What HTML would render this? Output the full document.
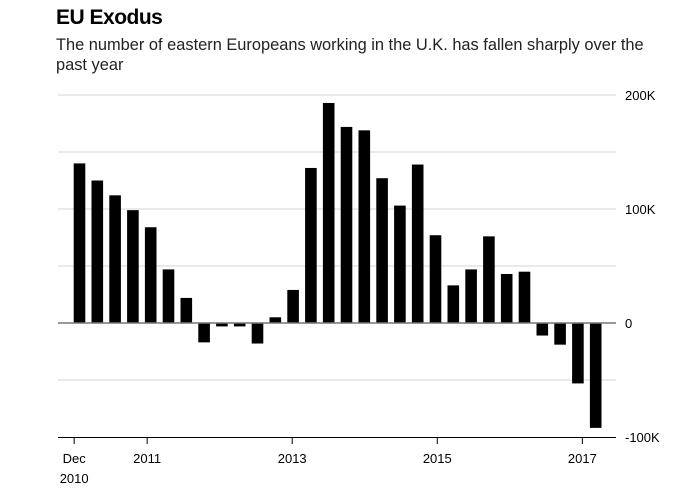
<!DOCTYPE html>
<html><head><meta charset="utf-8"><style>
body{margin:0;background:#fff;font-family:"Liberation Sans",Arial,sans-serif;}
#wrap{position:relative;width:697px;height:495px;overflow:hidden}
h1{position:absolute;left:56px;top:6px;margin:0;font-size:21px;font-weight:bold;letter-spacing:-0.5px;color:#000}
p{position:absolute;left:56px;top:35px;margin:0;font-size:16.4px;line-height:20px;color:#222;width:640px;white-space:nowrap}
</style></head><body>
<div id="wrap">
<h1>EU Exodus</h1>
<p>The number of eastern Europeans working in the U.K. has fallen sharply over the<br>past year</p>
<svg id="svg" width="697" height="495" style="position:absolute;left:0;top:0"></svg>
</div>
<script>
const values=[140,125,112,99,84,47,22,-17,-3,-3,-18,5,29,136,193,172,169,127,103,139,77,33,47,76,43,45,-11,-19,-53,-92];
const yTicks=[200,100,0,-100];
const yTickLabels=["200K","100K","0","-100K"];
const xTickPos=[-0.3,3.8,11.95,20.1,28.25];
const xTickLabels=["Dec","2011","2013","2015","2017"];
const NS="http://www.w3.org/2000/svg";
const svg=document.getElementById('svg');
const y=v=>323-v*1.14;
const x=i=>79.5+i*17.8;
function mk(t,a){const e=document.createElementNS(NS,t);for(const k in a)e.setAttribute(k,a[k]);svg.appendChild(e);return e;}
[200,150,100,50,-50].forEach(v=>{
 const g=mk('line',{x1:58,x2:616,y1:y(v),y2:y(v),stroke:'#ddd','stroke-width':1.2});
 
 
});
values.forEach((v,i)=>{
 const r=mk('rect',{x:x(i)-5.8,width:11.6,y:Math.min(y(v),y(0)),height:Math.abs(y(v)-y(0)),fill:'#000'});
 
 
});
const z=mk('line',{x1:58,x2:616,y1:y(0),y2:y(0),stroke:'#777','stroke-width':1.5});


const ax=mk('line',{x1:58,x2:616,y1:437.5,y2:437.5,stroke:'#000','stroke-width':1});


yTicks.forEach((v,i)=>{
 const t=mk('text',{x:625,y:y(v)+5,'font-size':13,fill:'#000'});
 t.textContent=yTickLabels[i];
 
 
});
xTickPos.forEach((p,i)=>{
 const px=x(p);
 const l=mk('line',{x1:px,x2:px,y1:437,y2:444,stroke:'#000','stroke-width':1});
 
 
 const t=mk('text',{x:px,y:463,'font-size':13,fill:'#000','text-anchor':'middle'});
 t.textContent=xTickLabels[i];
 
 
});
const t2=mk('text',{x:x(-0.3),y:483,'font-size':13,fill:'#000','text-anchor':'middle'});
t2.textContent="2010";


</script>
</body></html>
